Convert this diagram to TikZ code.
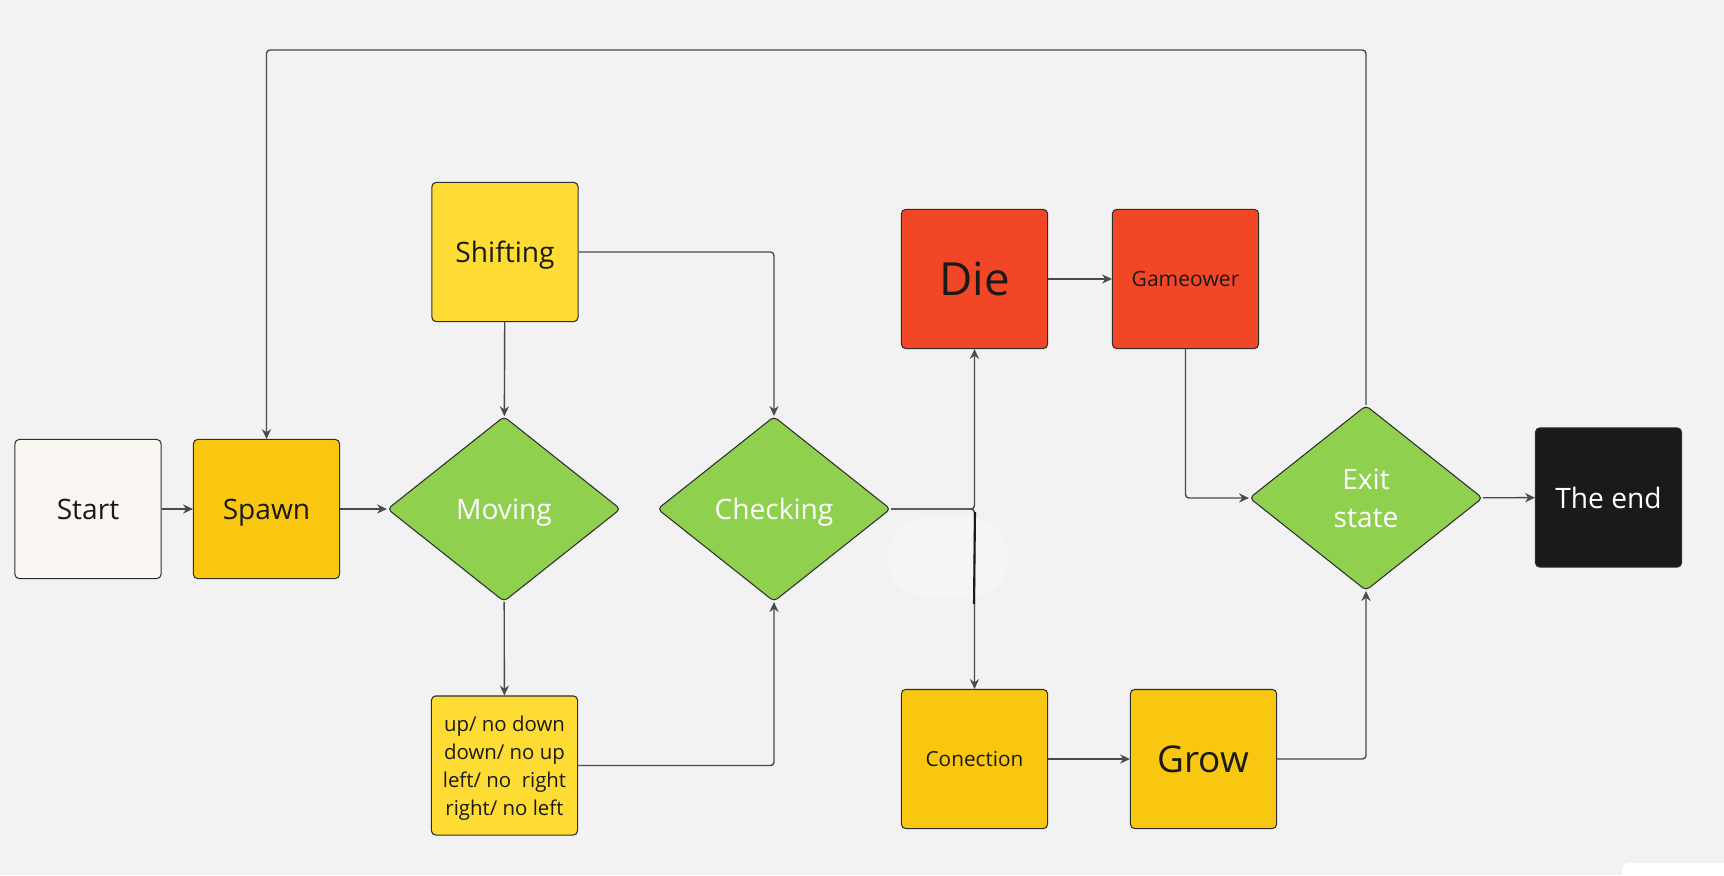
\documentclass[tikz,border=0pt]{standalone}
\usepackage{fontspec}
\setmainfont{Open Sans}
\usetikzlibrary{shapes.geometric,arrows.meta}
\definecolor{bg}{HTML}{F2F2F2}
\definecolor{cream}{HTML}{FAF7F2}
\definecolor{gold}{HTML}{FAC710}
\definecolor{lemon}{HTML}{FFDC33}
\definecolor{grn}{HTML}{8FD14F}
\definecolor{red}{HTML}{F24726}
\definecolor{ink}{HTML}{1A1A1A}
\definecolor{bdr}{HTML}{2E2E2E}
\definecolor{lnk}{HTML}{4A4A4A}
\definecolor{pill}{HTML}{F6F5F3}
\tikzset{every node/.style={rectangle,draw=bdr,line width=0.3pt,rounded corners=1.2pt,minimum width=1.46cm,minimum height=1.39cm,inner sep=0pt,text depth=0pt,text=ink,font=\fontsize{8}{10}\selectfont}}
\tikzset{d/.style={diamond,fill=grn,minimum width=2.33cm,minimum height=1.85cm,text=white,align=center,font=\fontsize{8}{10.8}\selectfont}}
\tikzset{l/.style={draw=lnk,line width=0.4pt,rounded corners=1pt,-{Stealth[length=2.8pt,width=2.6pt]}}}

\begin{document}
\begin{tikzpicture}[x=0.01cm,y=-0.01cm]
      \useasboundingbox (0,0) rectangle (1724,875);
      \fill[bg] (0,0) rectangle (1724,875);
      \fill[pill,rounded corners=11pt] (888,518) rectangle (1008,598);
      \fill[white,rounded corners=2pt] (1622,863) rectangle (1740,890);
      \node[fill=cream] (st) at (88,509) {Start};
      \node[fill=gold] (sp) at (266.5,509) {Spawn};
      \node[d] (mv) at (504,509) {Moving};
      \node[fill=lemon] (sh) at (505,252) {Shifting};
      \node[fill=lemon,align=center,font=\fontsize{5.8}{8}\selectfont] (ud) at (504.5,765.5) {up/ no down\\down/ no up\\left/ no\ \ right\\right/ no left};
      \node[d] (ch) at (774,509) {Checking};
      \node[fill=red,font=\fontsize{13}{15}\selectfont] (die) at (974.5,279) {Die};
      \node[fill=red,font=\fontsize{6}{8}\selectfont] (go) at (1185.5,279) {Gameower};
      \node[fill=gold,font=\fontsize{5.9}{8}\selectfont] (con) at (974.5,759) {Conection};
      \node[fill=gold,font=\fontsize{10.5}{12}\selectfont] (gr) at (1203.5,759) {Grow};
      \node[d] (ex) at (1366,498) {Exit\\state};
      \node[fill=ink,text=white] (end) at (1608.5,497.5) {The end};
      \coordinate (tp) at (266.5,50);
        \draw[l] (st) -- (sp);
        \draw[l] (sp) -- (mv);
        \draw[l] (sh) -- (mv);
        \draw[l] (sh.east) -| (ch.north);
        \draw[l] (mv) -- (ud);
        \draw[l] (ud.east) -| (ch.south);
        \draw[l] (ch.east) -| (die.south);
        \draw[l] (ch.east) -| (con.north);
        \draw[l] (die) -- (go);
        \draw[l] (go.south) |- (ex.west);
        \draw[l] (con) -- (gr);
        \draw[l] (gr.east) -| (ex.south);
        \draw[l] (ex) -- (end);
        \draw[l] (ex.north) |- (tp) -- (sp.north);
        \draw[line width=0.6pt,color=ink] (975,512) -- (974,604);
    \end{tikzpicture}
\end{document}
